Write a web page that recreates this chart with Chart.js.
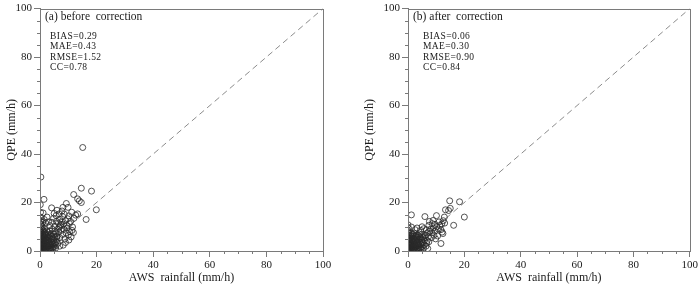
<!DOCTYPE html>
<html>
<head>
<meta charset="utf-8">
<script src="https://cdn.jsdelivr.net/npm/chart.js@4.4.1/dist/chart.umd.min.js"></script>
<style>
  html, body { margin: 0; padding: 0; background: #fff; }
  #wrap { position: relative; width: 700px; height: 286px; }
  .panel { position: absolute; top: 0; width: 350px; height: 286px; }
</style>
</head>
<body>
<div id="wrap">
  <div class="panel" style="left:0"><canvas id="before" width="350" height="286"></canvas></div>
  <div class="panel" style="left:350px"><canvas id="after" width="350" height="286"></canvas></div>
</div>
<script>
// ─── Data: AWS rainfall vs QPE (mm/h) ───
const axisTicks = [0, 20, 40, 60, 80, 100];
const diagonal = [[0, 0], [100, 100]];

const beforeLabel = '(a) before  correction';
const beforeStats = ['BIAS=0.29', 'MAE=0.43', 'RMSE=1.52', 'CC=0.78'];
const beforePairs = [
  [15.1,42.7],[0.3,30.5],[1.4,21.3],[14.6,25.9],[18.2,24.7],[11.9,23.3],[13.3,21.5],[13.9,20.7],[14.6,20.0],
  [19.9,17.0],[16.3,13.0],[9.3,19.6],[9.9,18.0],[4.1,17.8],[0.1,19.1],[0.2,16.0],[1.1,15.7],[8.1,18.0],
  [11.5,9.9],[11.3,8.5],[11.8,7.6],[10.4,11.3],[9.8,13.3],[13.3,15.3],[5.7,14.6],[6.8,15.3],
  [3.0,12.0],[3.5,10.5],[4.2,11.8],[4.8,13.5],[5.2,10.2],[5.8,12.2],[6.2,9.0],[6.5,11.5],[7.0,13.0],
  [7.2,10.3],[7.6,12.0],[8.0,14.2],[8.3,11.0],[8.6,15.2],[9.0,12.5],[9.5,10.5],[10.2,14.5],[10.8,12.2],
  [11.2,16.0],[12.0,13.5],[12.6,14.8],[7.8,16.5],[6.0,16.8],[5.0,15.5],[2.5,14.0],[2.0,11.5],[1.5,13.0],
  [0.5,12.5],[0.3,11.0],[0.8,10.0],[0.2,14.0],
  [5.5,7.5],[6.0,6.0],[6.6,7.8],[7.0,5.5],[7.5,8.5],[8.0,6.8],[8.5,9.0],[8.8,5.0],[9.2,7.5],[9.6,9.5],
  [10.0,6.5],[10.5,8.0],[9.0,3.5],[8.2,2.4],[7.0,2.0],[6.2,3.2],[10.2,4.5],[11.0,5.8],[5.8,4.0],[6.8,9.8],[7.3,11.0],
  [0.0,0.0],[0.1,0.5],[0.2,1.0],[0.0,1.6],[0.3,2.2],[0.1,2.8],[0.4,3.4],[0.0,4.0],[0.2,4.7],[0.1,5.4],
  [0.3,6.2],[0.0,7.0],[0.2,7.8],[0.1,8.6],[0.4,9.3],
  [0.8,0.2],[0.9,0.9],[0.7,1.5],[1.0,2.1],[0.8,2.9],[0.9,3.6],[0.7,4.4],[1.0,5.2],[0.8,6.0],[0.9,6.9],[1.1,7.8],[0.9,8.8],
  [1.5,0.0],[1.6,0.7],[1.4,1.3],[1.7,2.0],[1.5,2.7],[1.6,3.4],[1.4,4.1],[1.8,4.9],[1.5,5.7],[1.7,6.6],[1.9,7.5],[1.5,9.3],
  [2.2,0.3],[2.3,1.0],[2.1,1.7],[2.4,2.4],[2.2,3.1],[2.5,3.9],[2.3,4.7],[2.6,5.6],[2.2,6.4],[2.4,8.2],
  [3.0,0.1],[3.1,0.8],[2.9,1.5],[3.2,2.2],[3.0,3.0],[3.3,3.7],[3.1,4.6],[3.4,5.5],[3.0,6.8],[3.5,8.3],
  [3.8,0.5],[3.9,1.3],[4.0,2.1],[3.7,2.9],[4.1,3.8],[3.9,4.8],[4.2,6.0],[4.0,7.2],[4.4,9.0],
  [4.6,0.8],[4.8,1.7],[4.7,2.7],[5.0,3.5],[4.9,4.6],[5.1,5.7],[4.8,7.0],[5.2,8.3],
  [5.5,1.2],[5.7,2.3],[5.4,3.1],[6.0,4.8],[5.9,5.9],
  [0.5,0.3],[0.6,1.2],[1.2,0.5],[1.3,1.8],[0.4,2.5],[1.2,3.0],[2.0,0.8],[2.7,2.0],[0.6,3.8],[1.3,4.6],
  [2.0,3.5],[2.8,4.2],[3.5,1.0],[3.6,2.5],[4.3,1.2],[4.4,3.2],[0.5,5.0],[1.2,6.3],[2.0,5.2],[2.8,6.0],
  [3.6,6.4],[4.5,5.2],[0.3,7.4],[1.3,8.2],[2.0,7.0],[2.9,7.6],[0.6,10.6],[1.0,11.8],[0.2,12.2]
];

const afterLabel = '(b) after  correction';
const afterStats = ['BIAS=0.06', 'MAE=0.30', 'RMSE=0.90', 'CC=0.84'];
const afterPairs = [
  [14.8,20.7],[18.3,20.3],[20.0,14.0],[16.2,10.6],[1.2,14.9],[6.0,14.2],[10.1,14.6],[13.3,17.0],[14.4,16.7],
  [15.0,17.6],[12.9,14.0],[11.7,3.1],[11.7,8.8],[12.1,7.8],[12.4,7.2],[0.0,10.8],[1.2,9.9],[7.4,10.6],[8.6,11.3],
  [9.0,9.5],[9.5,8.2],[10.2,10.0],[10.8,9.0],[11.3,10.5],[12.0,11.2],[11.0,12.0],[12.5,12.5],[13.0,11.5],
  [8.0,9.0],[8.5,7.5],[7.8,8.2],[7.0,7.5],[6.5,8.8],[6.2,6.5],[7.2,5.8],[8.3,5.5],[9.2,6.5],[9.8,5.0],
  [10.5,6.2],[5.6,9.2],[5.0,10.0],[4.5,8.5],[3.2,9.5],[2.5,8.8],[9.6,11.0],[8.9,12.6],[7.6,12.2],
  [0.0,0.0],[0.1,0.6],[0.2,1.2],[0.0,1.9],[0.3,2.6],[0.1,3.3],[0.4,4.0],[0.0,4.8],[0.2,5.6],[0.1,6.5],
  [0.3,7.4],[0.0,8.5],[0.2,9.4],
  [0.8,0.2],[0.9,0.9],[0.7,1.6],[1.0,2.3],[0.8,3.0],[0.9,3.8],[0.7,4.6],[1.0,5.5],[0.8,6.4],[1.1,7.3],
  [1.5,0.0],[1.6,0.7],[1.4,1.4],[1.7,2.1],[1.5,2.9],[1.6,3.6],[1.4,4.4],[1.8,5.3],[1.5,6.2],[1.7,7.0],
  [2.2,0.3],[2.3,1.0],[2.1,1.8],[2.4,2.5],[2.2,3.3],[2.5,4.1],[2.3,5.0],[2.6,6.0],[2.2,7.3],
  [3.0,0.1],[3.1,0.9],[2.9,1.6],[3.2,2.4],[3.0,3.2],[3.3,4.0],[3.1,4.9],[3.4,5.8],[3.0,6.6],
  [3.8,0.5],[3.9,1.3],[4.0,2.2],[3.7,3.0],[4.1,3.9],[3.9,4.8],[4.2,5.8],[4.0,7.0],
  [4.6,0.8],[4.8,1.7],[4.7,2.7],[5.0,3.6],[4.9,4.6],[5.1,5.7],[4.8,6.8],
  [5.5,1.2],[5.7,2.4],[5.4,3.4],[5.9,4.4],[5.6,5.4],[6.0,6.2],
  [6.4,2.0],[6.6,3.2],[6.8,4.3],[7.0,1.0],[7.4,3.8],
  [0.5,0.3],[0.6,1.2],[1.2,0.5],[1.3,1.8],[0.4,2.5],[1.2,3.0],[2.0,0.8],[2.7,2.0],[0.6,3.8],[1.3,4.6],
  [2.0,3.5],[2.8,4.2],[3.5,1.0],[3.6,2.5],[4.3,1.2],[4.4,3.2],[0.5,5.0],[1.2,6.3],[2.0,5.2],[2.8,6.0],
  [3.6,6.4],[4.5,5.2]
];

const xTitle = 'AWS  rainfall (mm/h)';
const yTitle = 'QPE (mm/h)';

// ─── Look ───
const SERIF = '"Liberation Serif", "DejaVu Serif", serif';
const AXIS_GRAY = '#7a7a7a';
const TEXT = '#1a1a1a';

// frame on all four sides + short minor ticks every 5
const framePlugin = {
  id: 'frame',
  afterDraw(chart) {
    const { ctx, chartArea: a, scales } = chart;
    ctx.save();
    ctx.strokeStyle = AXIS_GRAY;
    ctx.lineWidth = 1;
    ctx.strokeRect(Math.round(a.left) + 0.5, Math.round(a.top) + 0.5,
      Math.round(a.right - a.left), Math.round(a.bottom - a.top));
    ctx.beginPath();
    for (let v = 5; v < 100; v += 5) {
      if (v % 20 === 0) continue;
      const px = Math.round(scales.x.getPixelForValue(v)) + 0.5;
      ctx.moveTo(px, a.bottom); ctx.lineTo(px, a.bottom + 3);
      const py = Math.round(scales.y.getPixelForValue(v)) + 0.5;
      ctx.moveTo(a.left, py); ctx.lineTo(a.left - 3, py);
    }
    ctx.stroke();
    ctx.restore();
  }
};

// panel label + statistics in the upper-left corner
const notesPlugin = {
  id: 'notes',
  afterDraw(chart, args, opts) {
    const { ctx, chartArea: a } = chart;
    ctx.save();
    ctx.fillStyle = TEXT;
    ctx.textBaseline = 'alphabetic';
    ctx.font = '11.5px ' + SERIF;
    ctx.fillText(opts.label, a.left + 5, 20);
    ctx.font = '9.5px ' + SERIF;
    ctx.letterSpacing = '0.4px';
    opts.stats.forEach((s, i) => ctx.fillText(s, a.left + opts.statsIndent, 39 + i * 10.3));
    ctx.restore();
  }
};

function makeChart(id, pairs, label, stats, yAxisWidth, padRight, yTitlePad, statsIndent) {
  return new Chart(document.getElementById(id), {
    type: 'scatter',
    data: {
      datasets: [
        {
          data: pairs.map(p => ({ x: p[0], y: p[1] })),
          pointStyle: 'circle', pointRadius: 3,
          backgroundColor: 'rgba(0,0,0,0)', borderColor: '#2a2a2a', borderWidth: 0.8
        },
        {
          type: 'line',
          data: diagonal.map(p => ({ x: p[0], y: p[1] })),
          borderColor: '#8c8c8c', borderWidth: 1, borderDash: [6, 4],
          pointRadius: 0, fill: false
        }
      ]
    },
    options: {
      responsive: false, animation: false, events: [],
      layout: { padding: { left: 0, top: 5, right: padRight, bottom: 0 } },
      plugins: {
        legend: { display: false }, tooltip: { enabled: false },
        notes: { label, stats, statsIndent }
      },
      scales: {
        x: {
          type: 'linear', min: 0, max: 100,
          afterBuildTicks: s => { s.ticks = axisTicks.map(v => ({ value: v })); },
          afterFit: s => { s.height = 35; },
          grid: { drawOnChartArea: false, tickLength: 6, color: AXIS_GRAY },
          border: { display: true, color: AXIS_GRAY },
          ticks: { color: TEXT, font: { family: SERIF, size: 11 }, padding: 2, maxRotation: 0 },
          title: { display: true, text: xTitle, color: TEXT, font: { family: SERIF, size: 12 }, padding: { top: 0, bottom: 1 } }
        },
        y: {
          type: 'linear', min: 0, max: 100,
          afterBuildTicks: s => { s.ticks = axisTicks.map(v => ({ value: v })); },
          afterFit: s => { s.width = yAxisWidth; },
          grid: { drawOnChartArea: false, tickLength: 6, color: AXIS_GRAY },
          border: { display: true, color: AXIS_GRAY },
          ticks: { color: TEXT, font: { family: SERIF, size: 11 }, padding: 2 },
          title: { display: true, text: yTitle, color: TEXT, font: { family: SERIF, size: 12 }, padding: { top: yTitlePad, bottom: 0 } }
        }
      }
    },
    plugins: [framePlugin, notesPlugin]
  });
}

makeChart('before', beforePairs, beforeLabel, beforeStats, 40, 27, 5, 10);
makeChart('after', afterPairs, afterLabel, afterStats, 58, 8, 13, 15);
</script>
</body>
</html>
